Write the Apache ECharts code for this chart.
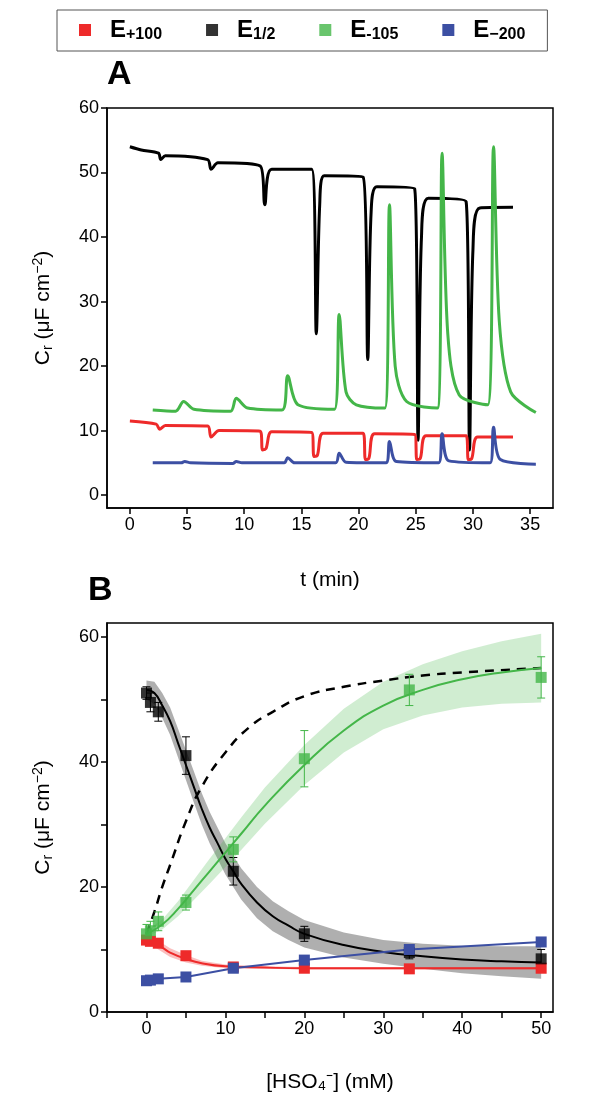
<!DOCTYPE html><html><head><meta charset="utf-8"><script src="https://cdn.jsdelivr.net/npm/echarts@6/dist/echarts.min.js"></script></head><body style="margin:0"><div id="c" style="width:603px;height:1109px"></div><script>
const RED='#ee2a2a',BLK='#000',GRN='#44b649',BLU='#3c4fa3';
const traceBlack=[[0,54],[1,53.5],[2.5,53],[2.7,52],[3.1,52.6],[6.8,52],[7.1,50.5],[7.7,51.5],[11.4,51],[11.8,45],[12.4,50.5],[15.9,50.5],[16.3,25],[16.6,45],[17,49.5],[20.4,49.3],[20.8,21],[21.1,44],[21.6,47.8],[24.9,47.5],[25.2,8.5],[25.5,40],[26.1,46],[29.4,45.5],[29.7,7],[30,38],[30.6,44.5],[33.5,44.6]];
const traceGreen=[[2,13.2],[4,13],[4.7,14.5],[5.6,13.3],[8.8,13],[9.3,15],[10.3,13.5],[13.3,13.2],[13.8,18.5],[14.7,14],[17.9,13.3],[18.3,28],[18.9,16],[19.8,14],[22.3,13.5],[22.7,45],[23.2,20],[24.2,14.5],[26.9,13.5],[27.3,53],[27.8,25],[28.8,15.5],[31.3,14],[31.8,54],[32.3,27],[33.3,16],[35.5,12.8]];
const traceRed=[[0,11.5],[2.3,11],[2.6,10.2],[3.1,10.8],[6.8,10.7],[7.1,9],[7.8,10],[11.4,9.9],[11.6,7],[11.9,7.2],[12.4,9.8],[15.9,9.7],[16.1,6],[16.4,6.2],[16.9,9.6],[20.4,9.6],[20.6,5.5],[20.9,5.7],[21.4,9.5],[24.9,9.4],[25.1,5.5],[25.4,5.7],[25.9,9.2],[29.4,9.2],[29.6,5.5],[29.9,5.7],[30.4,9],[33.5,9]];
const traceBlue=[[2,5],[4.5,5],[4.8,5.2],[5.3,5],[9,4.9],[9.3,5.2],[9.8,5],[13.5,5],[13.8,5.8],[14.4,5],[18,5],[18.3,6.5],[18.9,5.1],[22.4,5],[22.7,8.3],[23.3,5.2],[27,5],[27.3,9.5],[27.9,5.3],[31.5,5],[31.8,10.5],[32.4,5.5],[35.5,4.8]];
const conc=[0,0.5,1.5,5,11,20,33.3,50];
const bBlack=[51,49.5,48,41,22.5,12.5,9.5,8.5], eBlack=[1,1.5,1.5,3,2.2,1.2,1,1.5];
const bGreen=[12.5,13,14.5,17.5,26,40.5,51.5,53.5], eGreen=[1.5,1.5,1.5,1.2,2,4.5,2.5,3.3];
const bRed=[11.5,11.3,11,9,7.2,7,6.9,7];
const bBlue=[5,5.1,5.3,5.6,7,8.3,10,11.2];
const fitBlack=[[0,51.5],[1,51],[2,49],[3,46.5],[4,43],[5,39.5],[6,36],[7,32.5],[8,29.5],[9,27],[10,24.5],[11,22.5],[12,20.5],[14,17.5],[16,15.3],[18,13.8],[20,12.5],[25,10.7],[30,9.6],[35,8.9],[40,8.4],[45,8.1],[50,7.9]];
const bandBlack=[1.5,1.8,2,2.2,2.3,2.4,2.5,2.5,2.5,2.5,2.5,2.5,2.5,2.5,2.4,2.3,2.2,2,1.9,2,2.2,2.4,2.6];
const fitGreen=[[0,12.5],[2,14],[4,16.5],[6,19.5],[8,22.5],[10,25.5],[12,28.5],[15,33],[20,39.5],[25,45],[30,49],[35,51.5],[40,53.2],[45,54.3],[50,55]];
const bandGreen=[0.5,0.8,1.2,1.6,2,2.3,2.6,2.9,3.2,3.5,3.8,4.1,4.5,5,5.5];
const fitDash=[[0,12.5],[1,16],[2,20],[3,23.5],[5,30.5],[7,36],[10,41.5],[13,45.5],[16,48],[20,50.5],[25,52],[30,53],[35,53.8],[40,54.3],[50,55]];
const fitRed=[[0,12],[1,11],[2,10.3],[3,9.5],[5,8.5],[7,7.8],[10,7.3],[15,7.1],[20,7],[50,7]];
const bandRed=[0.3,0.6,0.7,0.7,0.6,0.4,0.3,0.2,0.2,0.2];
const names=['E+100','E1/2','E-105','E-200'];
const pts=(y)=>conc.map((x,i)=>[x,y[i]]);
function band(fit,w,color){return{type:'custom',xAxisIndex:1,yAxisIndex:1,silent:true,z:1,data:[0],renderItem:(p,api)=>{const up=fit.map((d,i)=>api.coord([d[0],d[1]+w[i]]));const lo=fit.map((d,i)=>api.coord([d[0],d[1]-w[i]])).reverse();return{type:'polygon',shape:{points:up.concat(lo)},style:{fill:color}};}};}
function err(y,e,color){return{type:'custom',xAxisIndex:1,yAxisIndex:1,silent:true,z:3,data:conc.map((x,i)=>[x,y[i],e[i]]),renderItem:(p,api)=>{const x=api.value(0),v=api.value(1),d=api.value(2);const a=api.coord([x,v+d]),b=api.coord([x,v-d]);const s={stroke:color,lineWidth:1};return{type:'group',children:[{type:'line',shape:{x1:a[0],y1:a[1],x2:b[0],y2:b[1]},style:s},{type:'line',shape:{x1:a[0]-4,y1:a[1],x2:a[0]+4,y2:a[1]},style:s},{type:'line',shape:{x1:b[0]-4,y1:b[1],x2:b[0]+4,y2:b[1]},style:s}]};}};}
const tl=(d,c)=>({type:'line',xAxisIndex:0,yAxisIndex:0,data:d,showSymbol:false,lineStyle:{color:c,width:3},smooth:0.3});
const rich={t:{fontSize:24,fontWeight:'bold',fontFamily:'Liberation Sans',color:'#000'},s:{fontSize:16,fontWeight:'bold',fontFamily:'Liberation Sans',verticalAlign:'bottom',padding:[10,0,0,0],color:'#000'}};
const ytitle={name:'{a|C}{b|r}{a| (μF cm}{c|−2}{a|)}',nameLocation:'middle',nameGap:52,nameTextStyle:{rich:{a:{fontSize:21,fontFamily:'Liberation Sans'},b:{fontSize:14,fontFamily:'Liberation Sans',padding:[10,0,0,0]},c:{fontSize:14,fontFamily:'Liberation Sans',padding:[0,0,10,0]}}}};
const ax={axisLine:{show:true,onZero:false,lineStyle:{color:'#000',width:1.5}},axisTick:{lineStyle:{color:'#000',width:1.5},length:6},axisLabel:{color:'#000',fontSize:18,fontFamily:'Liberation Sans'},splitLine:{show:false}};
const opt={animation:false,
legend:{top:10,left:57,right:-2,height:30,itemGap:44,padding:[8,22],borderColor:'#555',borderWidth:1,itemWidth:12,itemHeight:12,data:names.map(n=>({name:n,icon:'rect'})),
 formatter:n=>{const m={'E+100':'+100','E1/2':'1/2','E-105':'-105','E-200':'−200'};return '{t|E}{s|'+m[n]+'}';},textStyle:{rich,padding:[0,0,0,14]}},
grid:[{left:107,top:108,width:446,height:400,show:true,borderColor:'#000',borderWidth:1.5},{left:107,top:623,width:446,height:389,show:true,borderColor:'#000',borderWidth:1.5}],
xAxis:[{type:'value',gridIndex:0,min:-2,max:37,...ax,axisLabel:{...ax.axisLabel,customValues:[0,5,10,15,20,25,30,35]},axisTick:{...ax.axisTick,customValues:[0,5,10,15,20,25,30,35]},name:'t (min)',nameLocation:'middle',nameGap:62,nameTextStyle:{fontSize:21,fontFamily:'Liberation Sans'}},
{type:'value',gridIndex:1,min:-5,max:51.5,...ax,axisLabel:{...ax.axisLabel,customValues:[0,10,20,30,40,50]},axisTick:{...ax.axisTick,customValues:[-5,0,5,10,15,20,25,30,35,40,45,50]},name:'[HSO\u2084\u207B] (mM)',nameLocation:'middle',nameGap:60,nameTextStyle:{fontSize:21,fontFamily:'Liberation Sans'}}],
yAxis:[{type:'value',gridIndex:0,min:-2,max:60,...ax,axisLabel:{...ax.axisLabel,customValues:[0,10,20,30,40,50,60]},axisTick:{...ax.axisTick,customValues:[0,10,20,30,40,50,60]},...ytitle},
{type:'value',gridIndex:1,min:0,max:62.2,...ax,axisLabel:{...ax.axisLabel,customValues:[0,20,40,60]},axisTick:{...ax.axisTick,customValues:[0,10,20,30,40,50,60]},...ytitle}],
graphic:[{type:'text',left:107,top:58,style:{text:'A',fontSize:34,fontWeight:'bold',fontFamily:'Liberation Sans'}},{type:'text',left:88,top:574,style:{text:'B',fontSize:34,fontWeight:'bold',fontFamily:'Liberation Sans'}}],
series:[tl(traceBlack,BLK),tl(traceGreen,GRN),tl(traceRed,RED),tl(traceBlue,BLU),
band(fitBlack,bandBlack,'rgba(110,110,110,0.55)'),band(fitGreen,bandGreen,'rgba(68,182,73,0.25)'),band(fitRed,bandRed,'rgba(238,42,42,0.3)'),
{type:'line',xAxisIndex:1,yAxisIndex:1,data:fitDash,showSymbol:false,smooth:true,lineStyle:{color:'#000',width:2.5,type:[9,7]},z:2},
{type:'line',xAxisIndex:1,yAxisIndex:1,data:fitBlack,showSymbol:false,smooth:true,lineStyle:{color:'#000',width:2},z:2},
{type:'line',xAxisIndex:1,yAxisIndex:1,data:fitGreen,showSymbol:false,smooth:true,lineStyle:{color:GRN,width:2},z:2},
{type:'line',xAxisIndex:1,yAxisIndex:1,data:fitRed,showSymbol:false,smooth:true,lineStyle:{color:RED,width:2},z:2},
err(bBlack,eBlack,'#000'),err(bGreen,eGreen,GRN),
{name:'E+100',type:'line',xAxisIndex:1,yAxisIndex:1,data:pts(bRed),symbol:'rect',symbolSize:11,lineStyle:{width:0},itemStyle:{color:RED},z:4},
{name:'E1/2',type:'scatter',xAxisIndex:1,yAxisIndex:1,data:pts(bBlack),symbol:'rect',symbolSize:11,itemStyle:{color:BLK},z:4},
{name:'E-105',type:'scatter',xAxisIndex:1,yAxisIndex:1,data:pts(bGreen),symbol:'rect',symbolSize:11,itemStyle:{color:GRN},z:4},
{name:'E-200',type:'line',xAxisIndex:1,yAxisIndex:1,data:pts(bBlue),symbol:'rect',symbolSize:11,lineStyle:{color:BLU,width:2},itemStyle:{color:BLU},z:4}]};
echarts.init(document.getElementById('c')).setOption(opt);
</script></body></html>
